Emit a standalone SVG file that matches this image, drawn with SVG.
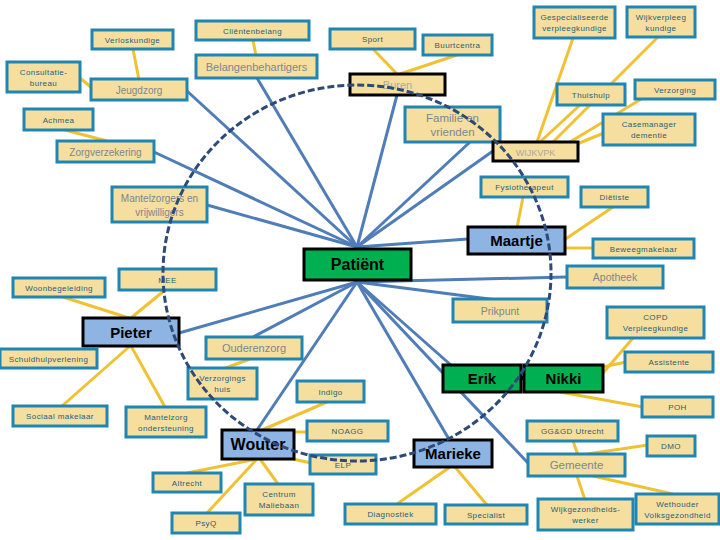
<svg xmlns="http://www.w3.org/2000/svg" width="720" height="540" viewBox="0 0 720 540">
<style>
.b{fill:#F6DE9E;stroke:#1F86B3;stroke-width:3}
.k{fill:#F6DE9E;stroke:#000;stroke-width:3}
.g{fill:#00B050;stroke:#000;stroke-width:3}
.u{fill:#8EB4E3;stroke:#000;stroke-width:3}
.s{font-family:"Liberation Sans",Arial,sans-serif;font-size:8px;fill:#1F5F7A;text-anchor:middle;letter-spacing:0.4px}
.l{font-family:"Liberation Sans",Arial,sans-serif;font-size:11px;fill:#7A8796;text-anchor:middle}
.lb{font-family:"Liberation Sans",Arial,sans-serif;font-size:11px;fill:#A8A8A8;text-anchor:middle}
.m{font-family:"Liberation Sans",Arial,sans-serif;font-size:15px;font-weight:bold;fill:#000;text-anchor:middle}
.bl line{stroke:#4F7DB8;stroke-width:3}
.yl line{stroke:#F0C233;stroke-width:3}
</style>
<g id="connectors">
<g class="yl">
<line x1="133" y1="49" x2="139" y2="80"/>
<line x1="253" y1="40" x2="256" y2="56"/>
<line x1="80" y1="78" x2="92" y2="88"/>
<line x1="65" y1="130" x2="107" y2="141"/>
<line x1="372" y1="48" x2="397" y2="74"/>
<line x1="457" y1="55" x2="400" y2="74"/>
<line x1="573" y1="38" x2="537" y2="142"/>
<line x1="658" y1="37" x2="553" y2="142"/>
<line x1="580" y1="105" x2="540" y2="142"/>
<line x1="643" y1="98" x2="570" y2="142"/>
<line x1="604" y1="133" x2="577" y2="144"/>
<line x1="523" y1="197" x2="517" y2="228"/>
<line x1="613" y1="207" x2="564" y2="240"/>
<line x1="565" y1="248" x2="594" y2="248"/>
<line x1="165" y1="290" x2="131" y2="318"/>
<line x1="63" y1="297" x2="129" y2="318"/>
<line x1="130" y1="346" x2="62" y2="406"/>
<line x1="131" y1="346" x2="165" y2="407"/>
<line x1="250" y1="359" x2="223" y2="369"/>
<line x1="262" y1="430" x2="327" y2="402"/>
<line x1="293" y1="432" x2="308" y2="432"/>
<line x1="293" y1="459" x2="311" y2="463"/>
<line x1="257" y1="459" x2="187" y2="473"/>
<line x1="257" y1="459" x2="207" y2="513"/>
<line x1="260" y1="459" x2="278" y2="484"/>
<line x1="603" y1="373" x2="633" y2="338"/>
<line x1="603" y1="367" x2="626" y2="362"/>
<line x1="560" y1="392" x2="643" y2="407"/>
<line x1="573" y1="441" x2="578" y2="455"/>
<line x1="587" y1="454" x2="648" y2="445"/>
<line x1="577" y1="476" x2="585" y2="500"/>
<line x1="593" y1="476" x2="673" y2="494"/>
<line x1="450" y1="467" x2="397" y2="504"/>
<line x1="455" y1="467" x2="487" y2="505"/>
</g>
<g class="bl">
<line x1="357" y1="247" x2="187" y2="91"/>
<line x1="357" y1="247" x2="257" y2="78"/>
<line x1="357" y1="247" x2="154" y2="152"/>
<line x1="357" y1="247" x2="397" y2="95"/>
<line x1="357" y1="247" x2="470" y2="142"/>
<line x1="357" y1="247" x2="493" y2="151"/>
<line x1="357" y1="247" x2="207" y2="205"/>
<line x1="357" y1="247" x2="468" y2="239"/>
<line x1="357" y1="282" x2="567" y2="277"/>
<line x1="357" y1="282" x2="497" y2="300"/>
<line x1="357" y1="282" x2="179" y2="333"/>
<line x1="357" y1="282" x2="253" y2="337"/>
<line x1="357" y1="282" x2="257" y2="430"/>
<line x1="357" y1="282" x2="450" y2="441"/>
<line x1="357" y1="282" x2="528" y2="463"/>
<line x1="357" y1="282" x2="452" y2="366"/>
</g>
<line x1="520" y1="378" x2="526" y2="378" stroke="#000" stroke-width="4"/>
</g>
<g id="n-verloskundige"><rect class="b" x="92" y="30" width="81" height="19"/><text class="s" x="132.5" y="42.5">Verloskundige</text></g>
<g id="n-clientenbelang"><rect class="b" x="196" y="21" width="113" height="19"/><text class="s" x="252.5" y="33.5">Cliëntenbelang</text></g>
<g id="n-sport"><rect class="b" x="330" y="29" width="85" height="20"/><text class="s" x="372.5" y="42">Sport</text></g>
<g id="n-buurtcentra"><rect class="b" x="423" y="35" width="69" height="20"/><text class="s" x="457.5" y="48">Buurtcentra</text></g>
<g id="n-gespec"><rect class="b" x="534" y="7" width="81" height="31"/><text class="s" x="574.5" y="20">Gespecialiseerde</text><text class="s" x="574.5" y="31">verpleegkundige</text></g>
<g id="n-wijkverpleeg"><rect class="b" x="627" y="7" width="68" height="30"/><text class="s" x="661" y="20">Wijkverpleeg</text><text class="s" x="661" y="31">kundige</text></g>
<g id="n-consultatie"><rect class="b" x="7" y="62" width="73" height="30"/><text class="s" x="43.5" y="75">Consultatie-</text><text class="s" x="43.5" y="86">bureau</text></g>
<g id="n-belangen"><rect class="b" x="196" y="55" width="121" height="23"/><text class="l" x="256.5" y="70.5">Belangenbehartigers</text></g>
<g id="n-jeugdzorg"><rect class="b" x="91" y="79" width="96" height="21"/><text class="l" x="139" y="93.5" style="font-size:10px">Jeugdzorg</text></g>
<g id="n-buren"><rect class="k" x="350" y="74" width="95" height="21"/><text class="lb" x="397.5" y="88.5">Buren</text></g>
<g id="n-thuishulp"><rect class="b" x="557" y="84" width="68" height="21"/><text class="s" x="591" y="97.5">Thuishulp</text></g>
<g id="n-verzorging"><rect class="b" x="635" y="80" width="80" height="19"/><text class="s" x="675" y="92.5">Verzorging</text></g>
<g id="n-achmea"><rect class="b" x="24" y="109" width="69" height="21"/><text class="s" x="58.5" y="122.5">Achmea</text></g>
<g id="n-familie"><rect class="b" x="405" y="107" width="95" height="35"/><text class="l" x="452.5" y="122" style="font-size:11.5px">Familie en</text><text class="l" x="452.5" y="136" style="font-size:11.5px">vrienden</text></g>
<g id="n-casemanager"><rect class="b" x="603" y="114" width="92" height="31"/><text class="s" x="649" y="127">Casemanager</text><text class="s" x="649" y="138">dementie</text></g>
<g id="n-zorgverzekering"><rect class="b" x="57" y="141" width="97" height="21"/><text class="l" x="105.5" y="155.5" style="font-size:10px">Zorgverzekering</text></g>
<g id="n-wijkvpk"><rect class="k" x="493" y="142" width="85" height="19"/><text class="lb" x="535.5" y="155.5" style="font-size:9px">WIJKVPK</text></g>
<g id="n-fysio"><rect class="b" x="481" y="177" width="87" height="20"/><text class="s" x="524.5" y="190">Fysiotherapeut</text></g>
<g id="n-dietiste"><rect class="b" x="581" y="187" width="67" height="20"/><text class="s" x="614.5" y="200">Diëtiste</text></g>
<g id="n-mantelzorgers"><rect class="b" x="112" y="187" width="95" height="35"/><text class="l" x="159.5" y="202" style="font-size:10px">Mantelzorgers en</text><text class="l" x="159.5" y="215.5" style="font-size:10px">vrijwilligers</text></g>
<g id="n-maartje"><rect class="u" x="468" y="227" width="97" height="27"/><text class="m" x="516.5" y="246">Maartje</text></g>
<g id="n-beweeg"><rect class="b" x="593" y="239" width="101" height="19"/><text class="s" x="643.5" y="251.5">Beweegmakelaar</text></g>
<g id="n-patient"><rect class="g" x="304" y="249" width="107" height="31"/><text class="m" x="357.5" y="270" style="font-size:16px">Patiënt</text></g>
<g id="n-apotheek"><rect class="b" x="567" y="266" width="96" height="22"/><text class="l" x="615" y="281" style="font-size:10.5px">Apotheek</text></g>
<g id="n-mee"><rect class="b" x="119" y="269" width="97" height="21"/><text class="s" x="167.5" y="282.5">MEE</text></g>
<g id="n-woonbegeleiding"><rect class="b" x="13" y="278" width="92" height="19"/><text class="s" x="59" y="290.5">Woonbegeleiding</text></g>
<g id="n-prikpunt"><rect class="b" x="453" y="299" width="94" height="23"/><text class="l" x="500" y="314.5" style="font-size:10.5px">Prikpunt</text></g>
<g id="n-copd"><rect class="b" x="607" y="307" width="97" height="31"/><text class="s" x="655.5" y="320">COPD</text><text class="s" x="655.5" y="331">Verpleegkundige</text></g>
<g id="n-pieter"><rect class="u" x="83" y="318" width="96" height="28"/><text class="m" x="131" y="338">Pieter</text></g>
<g id="n-ouderenzorg"><rect class="b" x="206" y="337" width="96" height="22"/><text class="l" x="254" y="352">Ouderenzorg</text></g>
<g id="n-schuldhulp"><rect class="b" x="0" y="349" width="97" height="19"/><text class="s" x="48.5" y="361.5">Schuldhulpverlening</text></g>
<g id="n-assistente"><rect class="b" x="625" y="352" width="88" height="20"/><text class="s" x="669" y="365">Assistente</text></g>
<g id="n-erik"><rect class="g" x="443" y="365" width="78" height="27"/><text class="m" x="482" y="384">Erik</text></g>
<g id="n-nikki"><rect class="g" x="524" y="365" width="79" height="27"/><text class="m" x="563.5" y="384">Nikki</text></g>
<g id="n-verzorgingshuis"><rect class="b" x="188" y="368" width="69" height="31"/><text class="s" x="222.5" y="381">Verzorgings</text><text class="s" x="222.5" y="392">huis</text></g>
<g id="n-indigo"><rect class="b" x="297" y="381" width="67" height="21"/><text class="s" x="330.5" y="394.5">Indigo</text></g>
<g id="n-poh"><rect class="b" x="642" y="397" width="71" height="20"/><text class="s" x="677.5" y="410">POH</text></g>
<g id="n-sociaal"><rect class="b" x="13" y="406" width="94" height="20"/><text class="s" x="60" y="419">Sociaal makelaar</text></g>
<g id="n-mzondersteuning"><rect class="b" x="126" y="407" width="80" height="30"/><text class="s" x="166" y="420">Mantelzorg</text><text class="s" x="166" y="431">ondersteuning</text></g>
<g id="n-noagg"><rect class="b" x="307" y="421" width="81" height="20"/><text class="s" x="347.5" y="434">NOAGG</text></g>
<g id="n-ggd"><rect class="b" x="527" y="421" width="91" height="20"/><text class="s" x="572.5" y="434">GG&amp;GD Utrecht</text></g>
<g id="n-wouter"><rect class="u" x="222" y="430" width="72" height="29"/><text class="m" x="258" y="450" style="font-size:16px">Wouter</text></g>
<g id="n-dmo"><rect class="b" x="647" y="436" width="48" height="20"/><text class="s" x="671" y="449">DMO</text></g>
<g id="n-marieke"><rect class="u" x="414" y="440" width="78" height="27"/><text class="m" x="453" y="459">Marieke</text></g>
<g id="n-elp"><rect class="b" x="310" y="455" width="66" height="19"/><text class="s" x="343" y="467.5">ELP</text></g>
<g id="n-gemeente"><rect class="b" x="528" y="454" width="97" height="22"/><text class="l" x="576.5" y="469" style="font-size:11.5px">Gemeente</text></g>
<g id="n-altrecht"><rect class="b" x="153" y="473" width="68" height="19"/><text class="s" x="187" y="485.5">Altrecht</text></g>
<g id="n-centrum"><rect class="b" x="245" y="484" width="68" height="31"/><text class="s" x="279" y="497">Centrum</text><text class="s" x="279" y="508">Maliebaan</text></g>
<g id="n-diagnostiek"><rect class="b" x="345" y="504" width="91" height="20"/><text class="s" x="390.5" y="517">Diagnostiek</text></g>
<g id="n-specialist"><rect class="b" x="445" y="505" width="82" height="19"/><text class="s" x="486" y="517.5">Specialist</text></g>
<g id="n-wijkgezondheid"><rect class="b" x="538" y="499" width="95" height="31"/><text class="s" x="585.5" y="512">Wijkgezondheids-</text><text class="s" x="585.5" y="523">werker</text></g>
<g id="n-wethouder"><rect class="b" x="636" y="494" width="83" height="30"/><text class="s" x="677.5" y="507">Wethouder</text><text class="s" x="677.5" y="518">Volksgezondheid</text></g>
<g id="n-psyq"><rect class="b" x="172" y="513" width="68" height="20"/><text class="s" x="206" y="526">PsyQ</text></g>
<g id="circle"><ellipse cx="357" cy="273" rx="194" ry="188" fill="none" stroke="#2E4A78" stroke-width="3" stroke-dasharray="7 3"/></g>
</svg>
